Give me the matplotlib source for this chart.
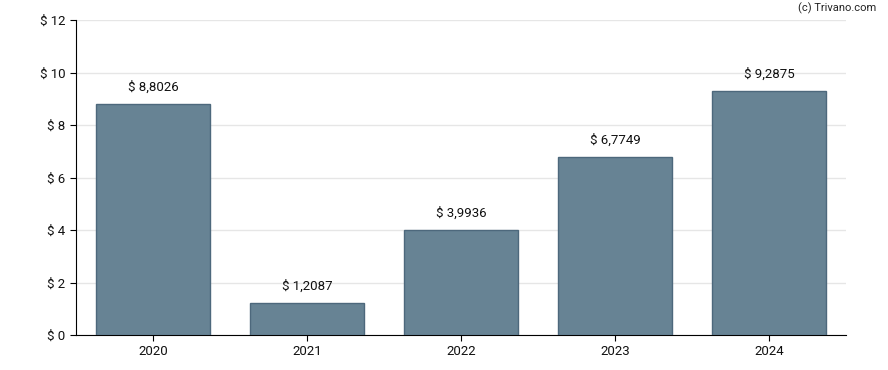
import matplotlib
matplotlib.use("Agg")
import matplotlib.pyplot as plt

years = ["2020", "2021", "2022", "2023", "2024"]
values = [8.8026, 1.2087, 3.9936, 6.7749, 9.2875]
labels = ["$ 8,8026", "$ 1,2087", "$ 3,9936", "$ 6,7749", "$ 9,2875"]
yticks = [0, 2, 4, 6, 8, 10, 12]

plt.rcParams['font.family'] = ['Roboto', 'DejaVu Sans']
fig = plt.figure(figsize=(8.88, 3.70), dpi=100)
ax = fig.add_axes([76/888, 35/370, 770/888, 315/370])
x = range(len(years))
ax.bar(x, values, width=0.74, color="#678394", edgecolor="#4d687c", linewidth=1, zorder=3)
for xi, v, lab in zip(x, values, labels):
    ax.annotate(lab, (xi, v), xytext=(0, 7.5), textcoords="offset points",
                ha="center", va="bottom", fontsize=9.5, color="#111111")
ax.set_xlim(-0.5, 4.5)
ax.set_ylim(0, 12)
ax.set_yticks(yticks)
ax.set_yticklabels([f"$ {t}" for t in yticks], fontsize=9.5)
ax.set_xticks(list(x))
ax.set_xticklabels(years, fontsize=9.5)
ax.grid(axis="y", color="#e6e6e6", linewidth=1, zorder=0)
for s in ["top", "right"]:
    ax.spines[s].set_visible(False)
ax.spines["left"].set_color("black")
ax.spines["bottom"].set_color("black")
ax.tick_params(axis="both", length=4, color="black", labelcolor="#111111")
fig.text(876/888, 1 - 8/370, "(c) Trivano.com", ha="right", va="center", fontsize=8, color="#222222")
fig.savefig("out.png", dpi=100)
